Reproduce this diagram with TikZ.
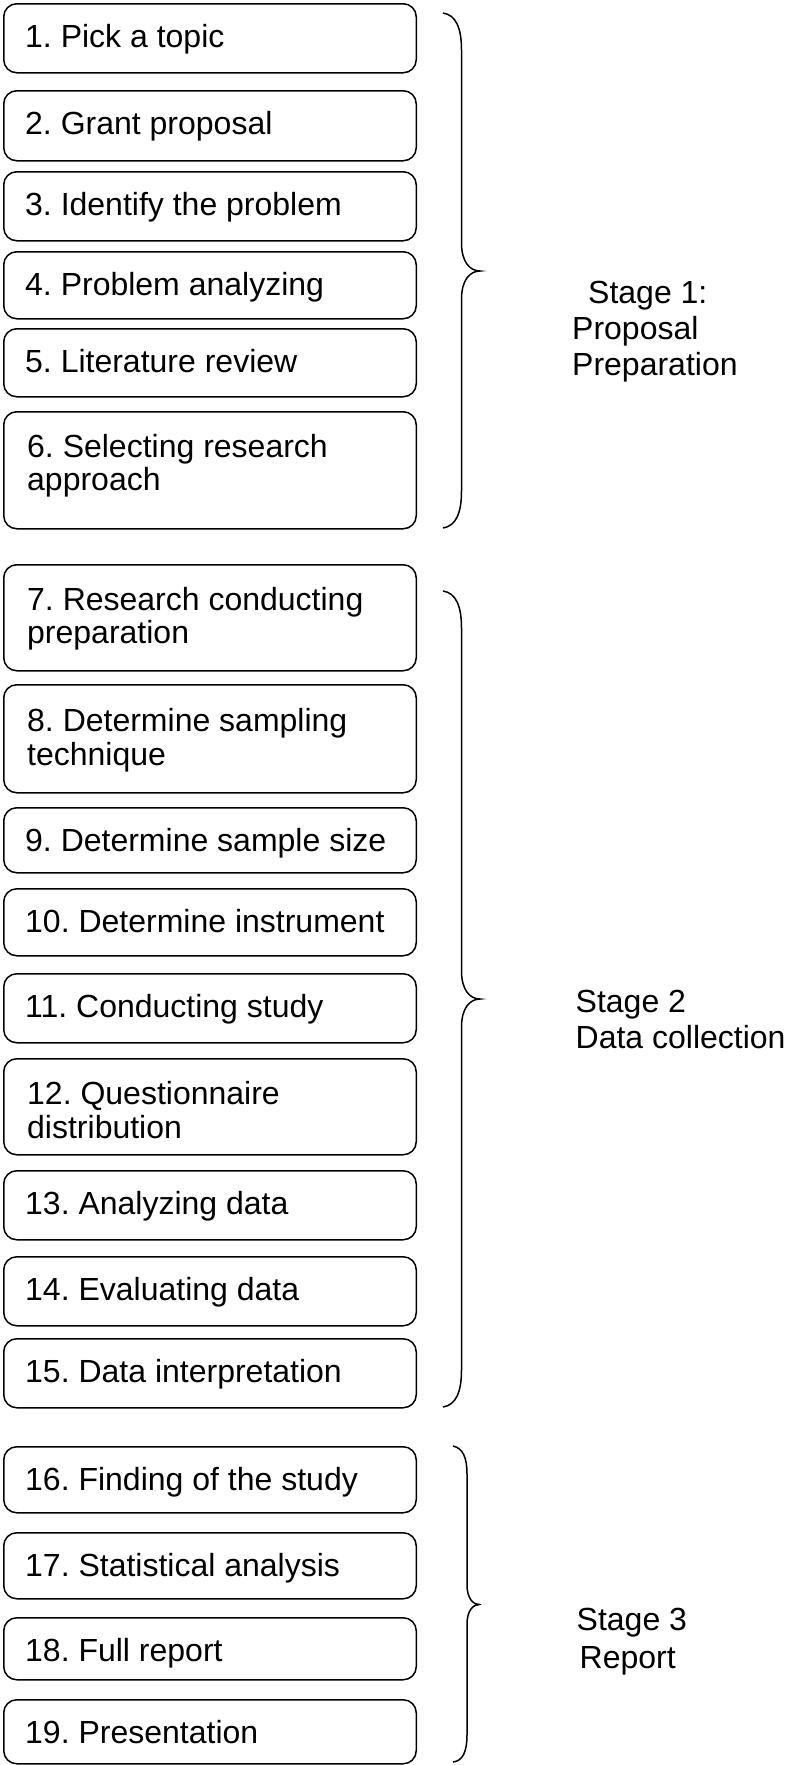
\documentclass[tikz,border=0pt]{standalone}
\usepackage{fontspec}
\setmainfont{Liberation Sans}
\frenchspacing
\newcommand\twolines[3]{\vtop{\baselineskip=#1\hbox{#2}\hbox{#3}}}
\newcommand\threelines[4]{\vtop{\baselineskip=#1\hbox{#2}\hbox{#3}\hbox{#4}}}
\begin{document}
\begin{tikzpicture}[x=1pt,y=-1pt,
  stepbox/.style={draw=black, line width=1.5pt, rounded corners=13pt, inner sep=0pt,
                  minimum width=412.5pt, anchor=north west},
  boxtext/.style={anchor=base west, inner sep=0pt, font=\fontsize{32}{34}\selectfont},
  stagetext/.style={anchor=base west, inner sep=0pt, font=\fontsize{32}{36}\selectfont},
  bracepath/.style={draw=black, line width=1.5pt}]
\useasboundingbox (0,0) rectangle (787,1765);

% Stage 1 boxes
\node[stepbox, minimum height=69pt]  (b1)  at (3,3)    {};
\node[stepbox, minimum height=70pt]  (b2)  at (3,90)   {};
\node[stepbox, minimum height=69pt]  (b3)  at (3,171)  {};
\node[stepbox, minimum height=67pt]  (b4)  at (3,251)  {};
\node[stepbox, minimum height=68pt]  (b5)  at (3,328)  {};
\node[stepbox, minimum height=117pt] (b6)  at (3,411)  {};
% Stage 2 boxes
\node[stepbox, minimum height=106pt] (b7)  at (3,564)  {};
\node[stepbox, minimum height=108pt] (b8)  at (3,684)  {};
\node[stepbox, minimum height=65pt]  (b9)  at (3,807)  {};
\node[stepbox, minimum height=67pt]  (b10) at (3,888)  {};
\node[stepbox, minimum height=69pt]  (b11) at (3,973)  {};
\node[stepbox, minimum height=96pt]  (b12) at (3,1058) {};
\node[stepbox, minimum height=69pt]  (b13) at (3,1170) {};
\node[stepbox, minimum height=69pt]  (b14) at (3,1256) {};
\node[stepbox, minimum height=69pt]  (b15) at (3,1338) {};
% Stage 3 boxes
\node[stepbox, minimum height=66pt]  (b16) at (3,1446) {};
\node[stepbox, minimum height=66pt]  (b17) at (3,1532) {};
\node[stepbox, minimum height=62pt]  (b18) at (3,1617) {};
\node[stepbox, minimum height=64pt]  (b19) at (3,1699) {};

% Box texts
\node[boxtext] (t1)  at (25,47)   {1. Pick a topic};
\node[boxtext] (t2)  at (25,134)  {2. Grant proposal};
\node[boxtext] (t3)  at (25,215)  {3. Identify the problem};
\node[boxtext] (t4)  at (25,295)  {4. Problem analyzing};
\node[boxtext] (t5)  at (25,372)  {5. Literature review};
\node[boxtext] (t6)  at (27,457)  {\twolines{33pt}{6. Selecting research}{approach}};
\node[boxtext] (t7)  at (27,610)  {\twolines{33pt}{7. Research conducting}{preparation}};
\node[boxtext] (t8)  at (27,731)  {\twolines{34pt}{8. Determine sampling}{technique}};
\node[boxtext] (t9)  at (25,851)  {9. Determine sample size};
\node[boxtext] (t10) at (25,932)  {10. Determine instrument};
\node[boxtext] (t11) at (25,1017) {11. Conducting study};
\node[boxtext] (t12) at (27,1104) {\twolines{34pt}{12. Questionnaire}{distribution}};
\node[boxtext] (t13) at (25,1214) {13. Analyzing data};
\node[boxtext] (t14) at (25,1300) {14. Evaluating data};
\node[boxtext] (t15) at (25,1382) {15. Data interpretation};
\node[boxtext] (t16) at (25,1490) {16. Finding of the study};
\node[boxtext] (t17) at (25,1576) {17. Statistical analysis};
\node[boxtext] (t18) at (25,1661) {18. Full report};
\node[boxtext] (t19) at (25,1743) {19. Presentation};

% Braces
\draw[bracepath] (443,13) .. controls (456,15) and (461.5,28) .. (461.5,50)
  -- (461.5,243) .. controls (461.5,262) and (470,271) .. (480,271)
  .. controls (470,271) and (461.5,280) .. (461.5,299)
  -- (461.5,491) .. controls (461.5,513) and (456,526) .. (443,528);
\draw[bracepath] (443,591) .. controls (456,593) and (461.5,606) .. (461.5,628)
  -- (461.5,971) .. controls (461.5,990) and (470,999) .. (480,999)
  .. controls (470,999) and (461.5,1008) .. (461.5,1027)
  -- (461.5,1370) .. controls (461.5,1392) and (456,1405) .. (443,1407);
\draw[bracepath] (453,1446) .. controls (463,1448) and (467,1458) .. (467,1474)
  -- (467,1585) .. controls (467,1598) and (473,1604.5) .. (479,1604.5)
  .. controls (473,1604.5) and (467,1611) .. (467,1624)
  -- (467,1735) .. controls (467,1751) and (463,1761) .. (453,1762);

% Stage labels
\node[stagetext] (s1) at (572,303) {\threelines{36pt}{\kern16pt Stage 1:}{Proposal}{Preparation}};
\node[stagetext] (s2) at (575.5,1012) {\twolines{36pt}{Stage 2}{Data collection}};
\node[stagetext] (s3) at (576.5,1630) {\twolines{38pt}{Stage 3}{\kern3pt Report}};
\end{tikzpicture}
\end{document}
